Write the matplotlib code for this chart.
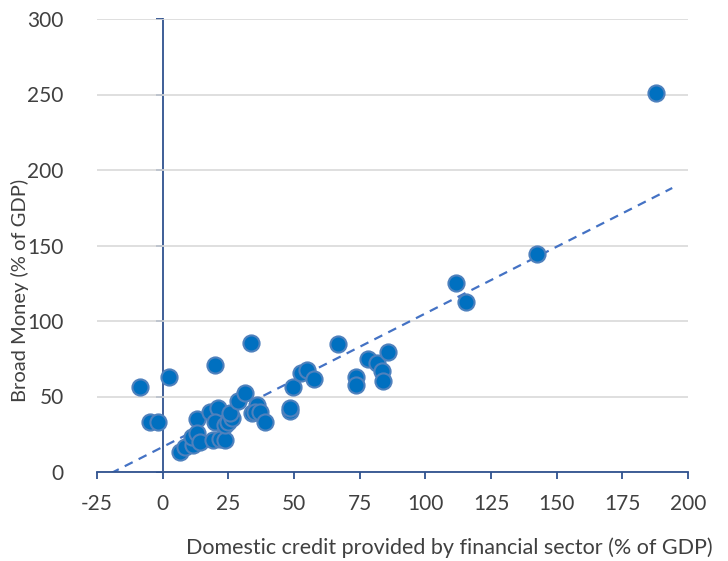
import numpy as np
import matplotlib
matplotlib.use("Agg")
import matplotlib.pyplot as plt

# domestic credit (% of GDP) and broad money (% of GDP)
credit = [187.8, 142.6, 111.6, 115.5, 66.8, 78.0, 81.5, 85.9, 83.4, 84.0,
          73.6, 73.6, 49.7, 48.5, 48.5, 52.5, 55.0, 57.7, -8.6, 2.4,
          19.9, 33.6, -4.8, -1.7, 12.9, 6.6, 8.5, 11.6, 11.0, 12.9,
          14.2, 19.3, 21.8, 23.7, 18.0, 21.2, 19.9, 23.7, 25.0, 26.3,
          25.6, 28.8, 31.3, 33.9, 35.8, 35.1, 37.0, 38.9]
money = [251.0, 144.4, 125.2, 112.6, 84.6, 74.6, 72.0, 79.7, 67.1, 60.5,
         62.7, 57.4, 56.3, 40.6, 42.5, 65.4, 67.5, 61.6, 56.5, 63.1,
         70.9, 85.6, 33.3, 33.3, 34.9, 13.4, 16.8, 17.9, 23.4, 25.6,
         20.1, 21.2, 21.6, 21.2, 39.9, 42.2, 33.3, 31.1, 33.3, 35.6,
         39.3, 47.2, 52.1, 38.9, 44.4, 39.9, 40.0, 33.3]

x_ticks = list(range(-25, 201, 25))
y_ticks = list(range(0, 301, 50))

plt.rcParams['font.family'] = ['Lato', 'DejaVu Sans']
plt.rcParams['axes.unicode_minus'] = False
text_col = '#404040'
axis_col = '#2F528F'

fig = plt.figure(figsize=(7.28, 5.61), dpi=100)
ax = fig.add_axes([97 / 728, 1 - 472 / 561, 591 / 728, 453 / 561])

ax.set_xlim(-25, 200)
ax.set_ylim(0, 300)
ax.set_xticks(x_ticks)
ax.set_yticks(y_ticks)
ax.grid(axis='y', color='#D9D9D9', linewidth=1.2)
ax.set_axisbelow(True)

for s in ['top', 'right', 'left']:
    ax.spines[s].set_visible(False)
ax.spines['bottom'].set_color(axis_col)
ax.spines['bottom'].set_linewidth(1.3)
ax.tick_params(axis='x', direction='out', length=5, width=1.3, color=axis_col,
               labelsize=15, labelcolor=text_col, pad=11)
ax.tick_params(axis='y', length=0, labelsize=15, labelcolor=text_col, pad=24)

# vertical axis crossing at x = 0
sec = ax.secondary_yaxis(25 / 225)
sec.set_yticks(y_ticks)
sec.set_yticklabels([])
sec.spines['left'].set_color(axis_col)
sec.spines['left'].set_linewidth(1.3)
sec.tick_params(direction='out', length=5, width=1.3, color=axis_col)

# linear trend
k, b = np.polyfit(credit, money, 1)
tx = np.array([-25, 194])
ax.plot(tx, k * tx + b, linestyle=(0, (4, 3)), color='#4472C4', linewidth=1.6, zorder=2)

ax.scatter(credit, money, s=135, color='#0070C0', edgecolors='#4F81BD',
           linewidths=1.5, zorder=3, clip_on=False)

ax.set_ylabel('Broad Money (% of GDP)', fontsize=14.5, color=text_col)
ax.yaxis.set_label_coords(-0.115, 0.40)
fig.text(713 / 728, 1 - 548 / 561, 'Domestic credit provided by financial sector (% of GDP)',
         ha='right', va='center', fontsize=15.5, color=text_col)

fig.savefig('out.png', dpi=100)
